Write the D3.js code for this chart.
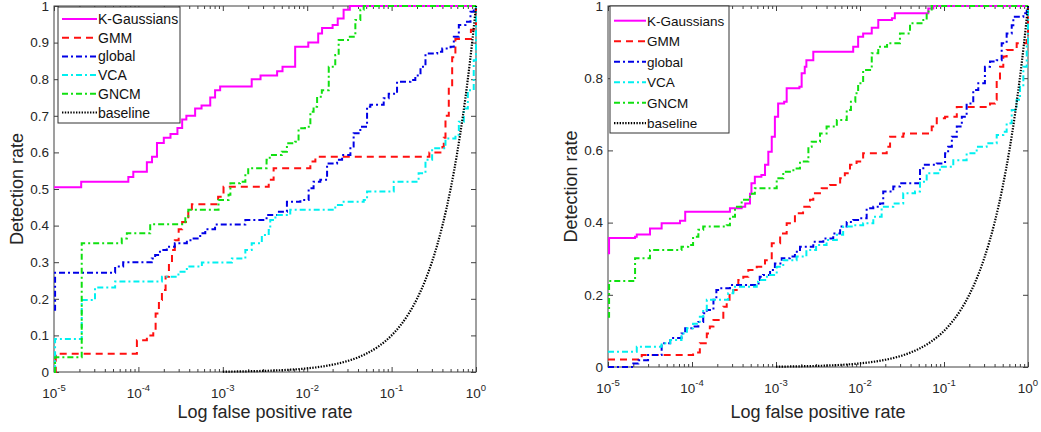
<!DOCTYPE html>
<html>
<head>
  <meta charset="UTF-8">
  <title>ROC curves</title>
  <script src="https://d3js.org/d3.v7.min.js"></script>
  <style>
    * { margin: 0; padding: 0; box-sizing: border-box; }
    body { background: #fff; font-family: "Liberation Sans", Arial, sans-serif; }
    svg { display: block; }
    .tick text { fill: #262626; }
  </style>
</head>
<body>
  <div id="chart"></div>

  <script>
    // ---- data: [false positive rate, detection rate] ----
    const seriesNames = ["K-Gaussians", "GMM", "global", "VCA", "GNCM", "baseline"];

    const xTickExps = [-5, -4, -3, -2, -1, 0];
    const leftYTicks = [0, 0.1, 0.2, 0.3, 0.4, 0.5, 0.6, 0.7, 0.8, 0.9, 1];
    const rightYTicks = [0, 0.2, 0.4, 0.6, 0.8, 1];

    const leftKGaussians = [[1e-5,0.505],[2.1e-5,0.52],[7.6e-5,0.533],[8.7e-5,0.547],[1.26e-4,0.573],[1.45e-4,0.588],[1.66e-4,0.626],[2.0e-4,0.64],[2.4e-4,0.65],[2.9e-4,0.667],[3.3e-4,0.69],[3.7e-4,0.70],[4.7e-4,0.72],[5.6e-4,0.728],[7.1e-4,0.75],[8.1e-4,0.77],[9.3e-4,0.78],[2.2e-3,0.80],[2.8e-3,0.81],[4.4e-3,0.822],[5.1e-3,0.834],[7.2e-3,0.889],[0.0103,0.90],[0.0135,0.925],[0.015,0.94],[0.02,0.948],[0.023,0.966],[0.027,0.99],[0.032,1],[1,1]];
    const leftGMM = [[1e-5,0],[1.05e-5,0.05],[9.6e-5,0.087],[1.26e-4,0.10],[1.5e-4,0.115],[1.6e-4,0.16],[1.75e-4,0.197],[1.9e-4,0.224],[2.1e-4,0.26],[2.3e-4,0.297],[2.5e-4,0.333],[2.7e-4,0.36],[3.0e-4,0.39],[3.3e-4,0.41],[3.9e-4,0.445],[4.3e-4,0.458],[8.8e-4,0.479],[1.02e-3,0.506],[3.5e-3,0.525],[4.0e-3,0.557],[0.0109,0.575],[0.0125,0.588],[0.28,0.60],[0.40,0.615],[0.415,0.64],[0.435,0.70],[0.476,0.78],[0.522,0.86],[0.57,0.91],[0.87,0.935],[1,1]];
    const leftGlobal = [[1e-5,0.17],[1.03e-5,0.271],[5.3e-5,0.288],[6.6e-5,0.30],[1.44e-4,0.31],[1.58e-4,0.32],[1.8e-4,0.333],[2.17e-4,0.342],[2.7e-4,0.352],[3.75e-4,0.36],[4.3e-4,0.365],[5.4e-4,0.379],[6.2e-4,0.39],[8.1e-4,0.403],[1.85e-3,0.415],[3.3e-3,0.429],[4.4e-3,0.438],[5.75e-3,0.465],[8.3e-3,0.47],[0.0104,0.502],[0.0119,0.52],[0.0143,0.525],[0.0172,0.57],[0.0226,0.58],[0.0259,0.593],[0.0325,0.616],[0.0355,0.652],[0.0426,0.67],[0.0512,0.725],[0.056,0.73],[0.0806,0.748],[0.0924,0.76],[0.116,0.793],[0.167,0.798],[0.191,0.81],[0.22,0.834],[0.252,0.87],[0.347,0.875],[0.398,0.884],[0.50,0.889],[0.546,0.916],[0.626,0.948],[0.75,0.957],[0.86,0.984],[0.94,1],[1,1]];
    const leftVCA = [[1e-5,0.005],[1.03e-5,0.09],[2.13e-5,0.197],[3.06e-5,0.231],[5.3e-5,0.247],[1.9e-4,0.26],[2.98e-4,0.274],[3.75e-4,0.288],[5.65e-4,0.299],[1.28e-3,0.31],[1.85e-3,0.333],[2.2e-3,0.352],[2.9e-3,0.374],[3.5e-3,0.388],[3.65e-3,0.415],[4.2e-3,0.429],[6.3e-3,0.443],[0.0215,0.456],[0.0259,0.465],[0.0467,0.47],[0.0512,0.493],[0.106,0.52],[0.209,0.543],[0.252,0.58],[0.302,0.611],[0.435,0.638],[0.571,0.648],[0.626,0.684],[0.717,0.72],[0.80,0.77],[0.94,0.852],[1,1]];
    const leftGNCM = [[1e-5,0],[1.03e-5,0.04],[2.13e-5,0.352],[6.35e-5,0.365],[7.3e-5,0.379],[1.38e-4,0.404],[3.6e-4,0.42],[3.9e-4,0.443],[8.9e-4,0.47],[1.17e-3,0.484],[1.23e-3,0.516],[1.6e-3,0.52],[1.85e-3,0.543],[2.0e-3,0.557],[3.3e-3,0.58],[3.6e-3,0.593],[5.0e-3,0.602],[5.75e-3,0.625],[7.2e-3,0.629],[7.9e-3,0.666],[9.4e-3,0.67],[0.0109,0.711],[0.0119,0.725],[0.0131,0.752],[0.0149,0.77],[0.018,0.834],[0.0215,0.866],[0.0236,0.907],[0.032,0.916],[0.0372,0.962],[0.0426,0.99],[0.0467,1],[1,1]];

    const rightKGaussians = [[1e-5,0.315],[1.03e-5,0.357],[2.1e-5,0.361],[2.2e-5,0.367],[3.16e-5,0.384],[4.35e-5,0.398],[7.2e-5,0.405],[8.3e-5,0.43],[2.83e-4,0.44],[3.9e-4,0.444],[4.3e-4,0.453],[4.9e-4,0.48],[5.1e-4,0.509],[5.6e-4,0.527],[6.7e-4,0.532],[7.4e-4,0.56],[8.1e-4,0.596],[8.9e-4,0.638],[9.7e-4,0.693],[1.06e-3,0.73],[1.25e-3,0.735],[1.34e-3,0.772],[1.9e-3,0.776],[2.02e-3,0.814],[2.2e-3,0.832],[2.3e-3,0.85],[2.78e-3,0.873],[8.3e-3,0.887],[9.5e-3,0.915],[0.0109,0.924],[0.0138,0.94],[0.0165,0.961],[0.024,0.966],[0.026,0.98],[0.065,0.993],[0.0746,1],[1,1]];
    const rightGMM = [[1e-5,0.021],[2.52e-5,0.033],[1.03e-4,0.04],[1.24e-4,0.066],[1.5e-4,0.093],[1.63e-4,0.112],[1.8e-4,0.13],[2.36e-4,0.167],[2.59e-4,0.186],[2.8e-4,0.204],[3.1e-4,0.213],[3.56e-4,0.241],[4.08e-4,0.25],[4.68e-4,0.269],[5.9e-4,0.278],[7.4e-4,0.296],[8.9e-4,0.343],[1.12e-3,0.37],[1.34e-3,0.398],[1.68e-3,0.426],[2.1e-3,0.444],[2.54e-3,0.463],[2.78e-3,0.481],[3.5e-3,0.495],[4.4e-3,0.504],[5.8e-3,0.523],[6.6e-3,0.537],[7.6e-3,0.56],[9.1e-3,0.569],[0.0109,0.592],[0.0208,0.61],[0.0228,0.638],[0.0328,0.647],[0.0714,0.666],[0.082,0.689],[0.103,0.693],[0.142,0.72],[0.353,0.73],[0.405,0.74],[0.424,0.795],[0.464,0.832],[0.508,0.86],[0.557,0.878],[0.733,0.897],[0.966,0.906],[1,1]];
    const rightGlobal = [[1e-5,0],[2.0e-5,0.01],[2.3e-5,0.019],[3.0e-5,0.033],[4.35e-5,0.066],[5.5e-5,0.08],[7.5e-5,0.093],[8.3e-5,0.107],[1.0e-4,0.112],[1.19e-4,0.125],[1.36e-4,0.149],[1.5e-4,0.158],[1.8e-4,0.186],[1.95e-4,0.213],[2.16e-4,0.218],[2.83e-4,0.227],[6.2e-4,0.241],[6.4e-4,0.25],[7.0e-4,0.255],[8.5e-4,0.269],[9.7e-4,0.287],[1.17e-3,0.301],[1.46e-3,0.306],[1.68e-3,0.319],[1.93e-3,0.333],[2.78e-3,0.347],[3.66e-3,0.356],[4.8e-3,0.37],[5.8e-3,0.389],[6.95e-3,0.402],[8.3e-3,0.407],[0.01,0.412],[0.012,0.44],[0.0144,0.444],[0.0173,0.453],[0.0189,0.486],[0.0249,0.5],[0.0299,0.509],[0.0518,0.546],[0.0567,0.56],[0.082,0.564],[0.103,0.592],[0.112,0.61],[0.124,0.638],[0.142,0.666],[0.163,0.693],[0.186,0.73],[0.223,0.767],[0.256,0.786],[0.307,0.832],[0.353,0.846],[0.424,0.85],[0.486,0.897],[0.557,0.924],[0.64,0.947],[0.669,0.97],[0.88,0.98],[0.966,0.993],[1,1]];
    const rightVCA = [[1e-5,0.042],[2.2e-5,0.056],[4.35e-5,0.066],[5.5e-5,0.075],[7.5e-5,0.093],[8.7e-5,0.107],[1.03e-4,0.12],[1.24e-4,0.139],[1.36e-4,0.158],[1.5e-4,0.186],[2.7e-4,0.204],[3.1e-4,0.222],[5.9e-4,0.236],[6.2e-4,0.241],[7.8e-4,0.255],[1.02e-3,0.278],[1.22e-3,0.296],[1.76e-3,0.306],[2.3e-3,0.324],[3.0e-3,0.338],[4.0e-3,0.352],[5.3e-3,0.366],[6.3e-3,0.389],[8.3e-3,0.393],[0.0109,0.398],[0.0144,0.416],[0.0181,0.444],[0.0249,0.453],[0.0327,0.481],[0.0452,0.486],[0.0518,0.513],[0.0622,0.537],[0.0895,0.555],[0.129,0.573],[0.186,0.592],[0.245,0.61],[0.322,0.62],[0.424,0.643],[0.508,0.652],[0.557,0.675],[0.64,0.712],[0.733,0.74],[0.804,0.776],[0.88,0.832],[0.966,0.897],[1,1]];
    const rightGNCM = [[1e-5,0.139],[1.03e-5,0.238],[2.1e-5,0.301],[3.16e-5,0.324],[7.5e-5,0.333],[9.0e-5,0.338],[1.03e-4,0.361],[1.19e-4,0.38],[1.36e-4,0.389],[2.59e-4,0.393],[2.83e-4,0.416],[3.25e-4,0.444],[3.9e-4,0.463],[4.9e-4,0.48],[5.6e-4,0.495],[1.02e-3,0.523],[1.22e-3,0.541],[1.61e-3,0.55],[1.93e-3,0.569],[2.43e-3,0.61],[2.66e-3,0.624],[3.34e-3,0.647],[4.0e-3,0.666],[5.3e-3,0.684],[6.95e-3,0.712],[7.8e-3,0.735],[8.8e-3,0.758],[0.0095,0.786],[0.0109,0.823],[0.0138,0.869],[0.0165,0.887],[0.021,0.897],[0.0299,0.924],[0.0394,0.952],[0.0567,0.961],[0.0622,0.985],[0.0714,1],[1,1]];

    // random-guess reference (detection rate = false positive rate)
    const baseline = [[0.001,0.001],[0.0015,0.0015],[0.002,0.002],[0.003,0.003],[0.004,0.004],[0.005,0.005],[0.007,0.007],[0.01,0.01],[0.015,0.015],[0.02,0.02],[0.03,0.03],[0.04,0.04],[0.05,0.05],[0.07,0.07],[0.1,0.1],[0.13,0.13],[0.16,0.16],[0.2,0.2],[0.25,0.25],[0.3,0.3],[0.35,0.35],[0.4,0.4],[0.5,0.5],[0.6,0.6],[0.7,0.7],[0.8,0.8],[0.9,0.9],[1,1]];

    // ---- styles ----
    const styles = [
      {color: "#ff00ff", dash: null,      width: 2},
      {color: "#ff1010", dash: "7,5",     width: 2},
      {color: "#0000e6", dash: "6,3,2,3", width: 2},
      {color: "#00f0f0", dash: "6,3,2,3", width: 2},
      {color: "#10e010", dash: "6,3,2,3", width: 2},
      {color: "#000000", dash: "1.4,1.4", width: 2.2}
    ];

    const panels = [
      {x0: 54, x1: 476, y0: 372, y1: 6, yTicks: leftYTicks,
       series: [leftKGaussians, leftGMM, leftGlobal, leftVCA, leftGNCM, baseline],
       ylabX: 23, legend: {x: 58, y: 7, w: 122, h: 116, row0: 19, step: 18.7, font: 14, lx0: 62, lx1: 97}},
      {x0: 608, x1: 1028, y0: 367, y1: 6, yTicks: rightYTicks,
       series: [rightKGaussians, rightGMM, rightGlobal, rightVCA, rightGNCM, baseline],
       ylabX: 577, legend: {x: 610, y: 6, w: 119, h: 127, row0: 20.7, step: 20.5, font: 13.5, lx0: 614, lx1: 646}}
    ];

    const svg = d3.select("#chart")
                  .append("svg")
                  .attr("width", 1041)
                  .attr("height", 432);

    svg.append("rect").attr("width", 1041).attr("height", 432).attr("fill", "white");

    panels.forEach(p => {
      const x = d3.scaleLog().domain([1e-5, 1]).range([p.x0, p.x1]);
      const y = d3.scaleLinear().domain([0, 1]).range([p.y0, p.y1]);

      const majors = xTickExps.map(e => Math.pow(10, e));
      const minors = [];
      xTickExps.slice(0, -1).forEach(e => {
        for (let k = 2; k <= 9; k++) minors.push(k * Math.pow(10, e));
      });

      const g = svg.append("g");

      // inward ticks on all four sides
      const tickGroups = [
        [d3.axisBottom(x).tickValues(majors).tickSize(-5), p.y0],
        [d3.axisBottom(x).tickValues(minors).tickSize(-3), p.y0],
        [d3.axisTop(x).tickValues(majors).tickSize(-5), p.y1],
        [d3.axisTop(x).tickValues(minors).tickSize(-3), p.y1]
      ];
      tickGroups.forEach(([ax, ty]) => {
        g.append("g")
         .attr("transform", `translate(0,${ty})`)
         .call(ax.tickFormat("").tickSizeOuter(0))
         .call(s => s.select(".domain").remove())
         .selectAll("line").attr("stroke", "#404040");
      });

      g.append("g")
       .attr("transform", `translate(${p.x0},0)`)
       .call(d3.axisLeft(y).tickValues(p.yTicks).tickSize(-5).tickPadding(5)
               .tickFormat(d3.format(".1~f")).tickSizeOuter(0))
       .call(s => s.select(".domain").remove())
       .call(s => s.selectAll("line").attr("stroke", "#404040"))
       .selectAll("text")
       .style("font-size", "13.5px")
       .style("font-family", "'Liberation Sans', Arial, sans-serif");

      g.append("g")
       .attr("transform", `translate(${p.x1},0)`)
       .call(d3.axisRight(y).tickValues(p.yTicks).tickSize(-5).tickFormat("").tickSizeOuter(0))
       .call(s => s.select(".domain").remove())
       .selectAll("line").attr("stroke", "#404040");

      // x tick labels 10^k
      const xl = g.selectAll(".xlab")
                  .data(xTickExps)
                  .enter()
                  .append("text")
                  .attr("x", d => x(Math.pow(10, d)))
                  .attr("y", p.y0 + 26)
                  .attr("text-anchor", "middle")
                  .style("fill", "#262626")
                  .style("font-size", "13.5px");
      xl.append("tspan").text("10");
      xl.append("tspan")
        .attr("dy", -7)
        .style("font-size", "9.5px")
        .text(d => d === 0 ? "0" : "-" + Math.abs(d));

      // plot box
      g.append("rect")
       .attr("x", p.x0).attr("y", p.y1)
       .attr("width", p.x1 - p.x0).attr("height", p.y0 - p.y1)
       .attr("fill", "none")
       .attr("stroke", "#404040")
       .attr("stroke-width", 1);

      // curves
      p.series.forEach((data, i) => {
        const st = styles[i];
        const line = d3.line()
                       .x(d => x(d[0]))
                       .y(d => y(d[1]))
                       .curve(i === 5 ? d3.curveMonotoneX : d3.curveStepAfter);
        g.append("path")
         .datum(data)
         .attr("d", line)
         .attr("fill", "none")
         .attr("stroke", st.color)
         .attr("stroke-width", st.width)
         .attr("stroke-dasharray", st.dash);
      });

      // axis titles
      g.append("text")
       .attr("transform", `translate(${p.ylabX},${(p.y0 + p.y1) / 2}) rotate(-90)`)
       .attr("text-anchor", "middle")
       .style("font-size", "18px")
       .style("fill", "#262626")
       .text("Detection rate");

      g.append("text")
       .attr("x", (p.x0 + p.x1) / 2)
       .attr("y", 418)
       .attr("text-anchor", "middle")
       .style("font-size", "18px")
       .style("fill", "#262626")
       .text("Log false positive rate");

      // legend
      const L = p.legend;
      const lg = g.append("g");
      lg.append("rect")
        .attr("x", L.x).attr("y", L.y)
        .attr("width", L.w).attr("height", L.h)
        .attr("fill", "white")
        .attr("stroke", "#333")
        .attr("stroke-width", 1);

      seriesNames.forEach((name, i) => {
        const st = styles[i];
        const cy = L.row0 + i * L.step;
        lg.append("line")
          .attr("x1", L.lx0).attr("x2", L.lx1)
          .attr("y1", cy).attr("y2", cy)
          .attr("stroke", st.color)
          .attr("stroke-width", st.width)
          .attr("stroke-dasharray", st.dash);
        lg.append("text")
          .attr("x", L.lx1 + 1)
          .attr("y", cy + L.font * 0.36)
          .style("font-size", L.font + "px")
          .style("fill", "#111")
          .text(name);
      });
    });
  </script>
</body>
</html>
